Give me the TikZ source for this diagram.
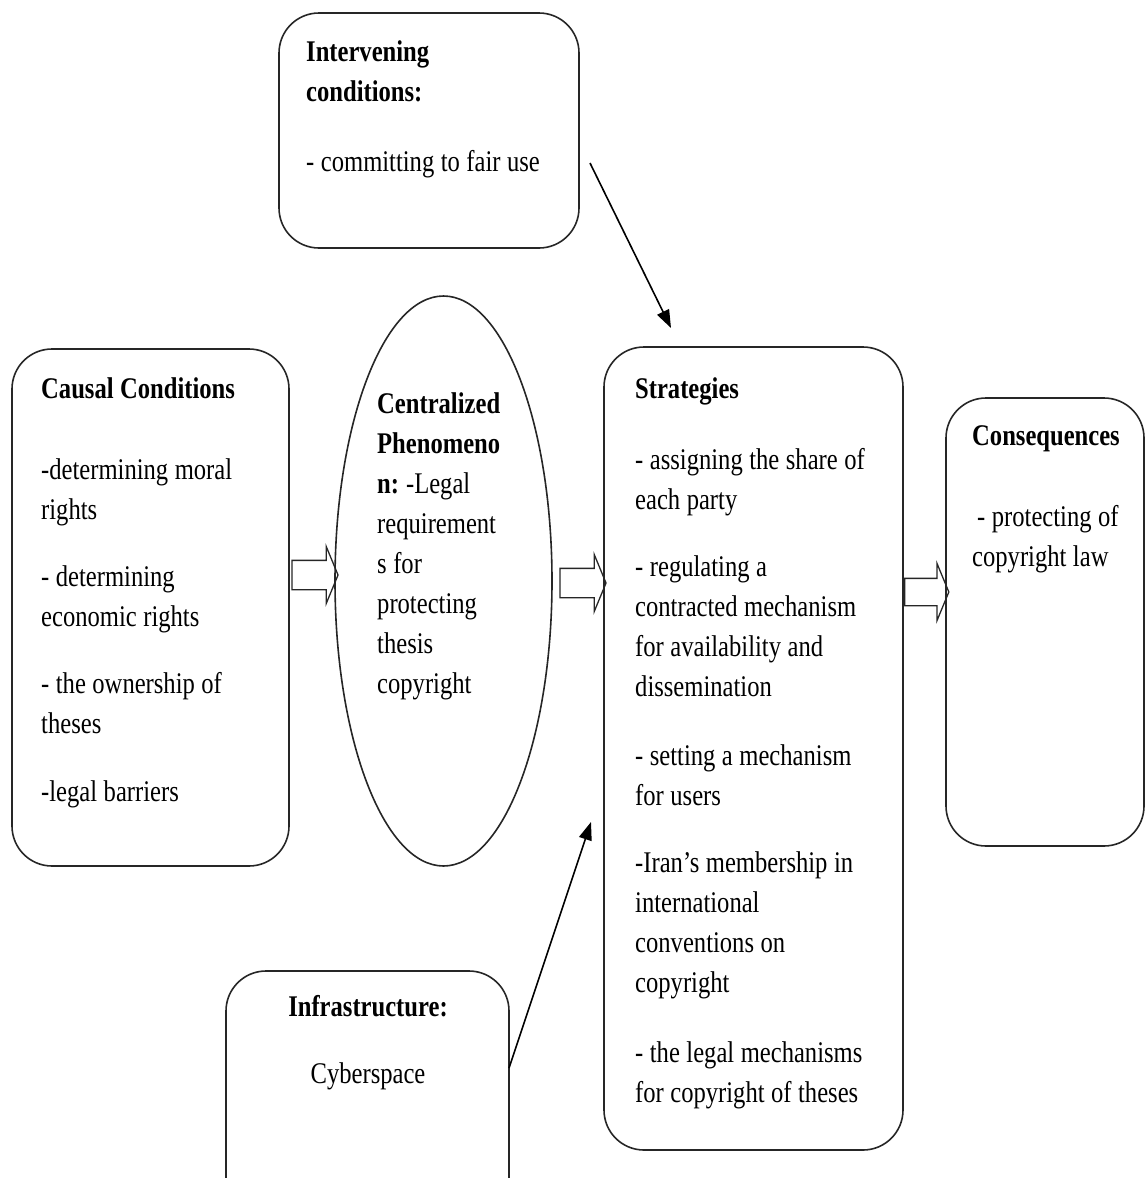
\documentclass[tikz,border=0pt]{standalone}
\usepackage{fontspec}
\setmainfont{Liberation Serif}[FakeStretch=0.82]
\usetikzlibrary{shapes.geometric,shapes.arrows,arrows.meta}

\begin{document}
\begin{tikzpicture}[x=1pt,y=-1pt,
  box/.style={draw=black!85,line width=1.6pt,rounded corners=40pt,inner sep=0pt},
  txt/.style={anchor=base west,align=left,text width=320pt,inner sep=0pt,font=\fontsize{30}{40}\selectfont,
    execute at begin node={\spaceskip=6.5pt plus 1pt minus 1pt\xspaceskip=7pt\relax}},
  ctxt/.style={txt,anchor=base,align=center,text width=280pt},
  blockarrow/.style={single arrow,draw=black!85,line width=1.3pt,inner xsep=0pt,inner ysep=14pt,
    single arrow head extend=14pt,single arrow tip angle=135,minimum height=46pt},
  thin/.style={line width=1.6pt,-{Triangle[length=18pt,width=13pt]}}]
  \useasboundingbox (0,0) rectangle (1146,1178);
  \clip (0,0) rectangle (1146,1178);

  \node[box,minimum width=300pt,minimum height=235pt] (interv) at (429,130.5) {}; % Intervening
  \node[box,minimum width=277pt,minimum height=517pt] (causal) at (150.5,607.5) {}; % Causal
  \node[ellipse,draw=black!85,line width=1.6pt,minimum width=217pt,minimum height=570pt] (phen) at (443.5,581) {};
  \node[box,minimum width=299pt,minimum height=803pt] (strat) at (753.5,748.5) {}; % Strategies
  \node[box,minimum width=198pt,minimum height=448pt] (conseq) at (1045,622) {}; % Consequences
  \node[box,minimum width=283pt,minimum height=280pt] (infra) at (367.5,1111) {}; % Infrastructure

  \node[txt] (interv-t) at (306,61) {\textbf{Intervening}\\\textbf{conditions:}\\[30pt]- committing to fair use};
  \node[txt] (causal-t) at (41,398) {\textbf{Causal Conditions}\\[41pt]-determining moral\\rights\\[27pt]- determining\\economic rights\\[27pt]- the ownership of\\theses\\[28pt]-legal barriers};
  \node[txt] (phen-t) at (377,413) {\textbf{Centralized}\\\textbf{Phenomeno}\\\textbf{n:} -Legal\\requirement\\s for\\protecting\\thesis\\copyright};
  \node[txt] (strat-t) at (635,398) {\textbf{Strategies}\\[31pt]- assigning the share of\\each party\\[27pt]- regulating a\\contracted mechanism\\for availability and\\dissemination\\[29pt]- setting a mechanism\\for users\\[27pt]-Iran's membership in\\international\\conventions on\\copyright\\[30pt]- the legal mechanisms\\for copyright of theses};
  \node[txt] (conseq-t) at (972,445) {\textbf{Consequences}\\[41pt]\hspace*{5pt}- protecting of\\copyright law};
  \node[ctxt] (infra-t) at (368,1016) {\textbf{Infrastructure:}\\[27pt]Cyberspace};

  \node[blockarrow] (a1) at (312,575) {};
  \node[blockarrow] (a2) at (580,583) {};
  \node[blockarrow,inner ysep=13pt,single arrow head extend=15pt,minimum height=44pt] (a3) at (924,592) {};

  \coordinate (interv-out) at (590,163);
  \coordinate (strat-top) at (671,328);
  \coordinate (infra-out) at (509,1068);
  \coordinate (strat-left) at (591,822);
  \draw[thin] (interv-out) -- (strat-top);
  \draw[thin] (infra-out) -- (strat-left);

\end{tikzpicture}
\end{document}
